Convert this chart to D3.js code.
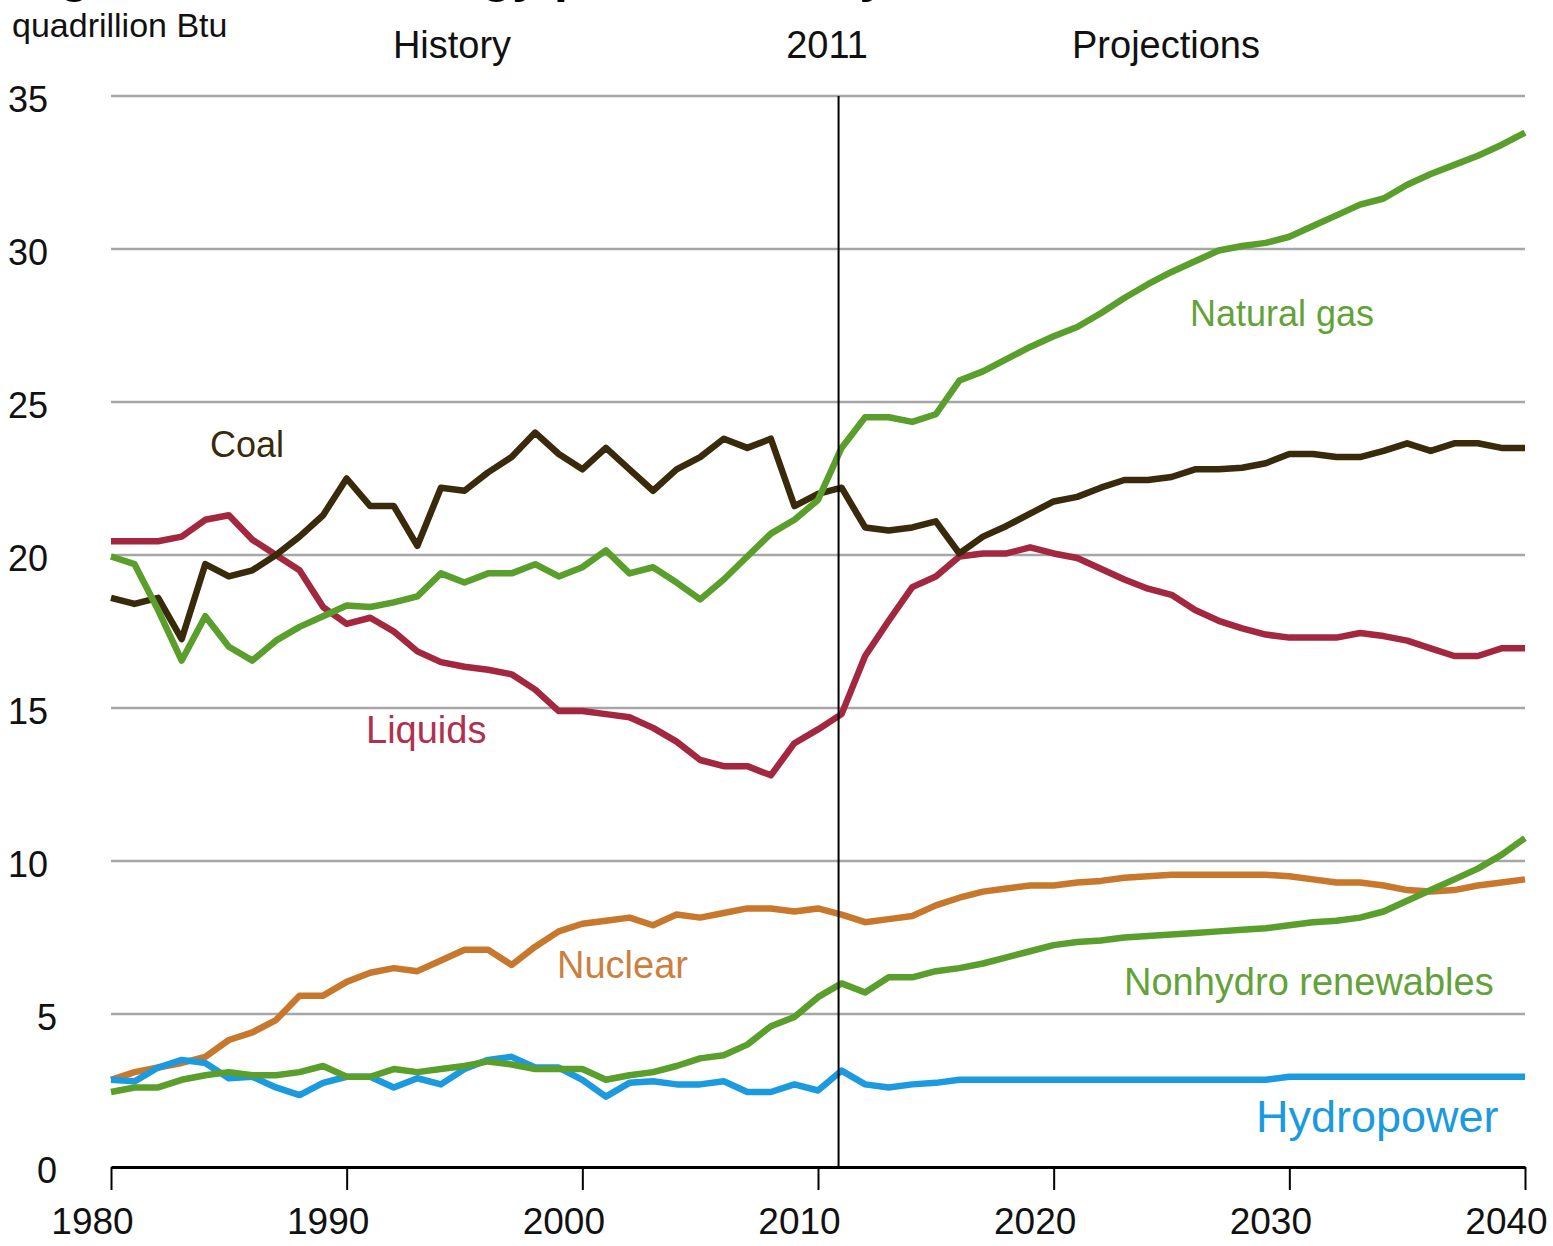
<!DOCTYPE html>
<html>
<head>
<meta charset="utf-8">
<script src="https://cdn.jsdelivr.net/npm/d3@7"></script>
<style>
  body { margin: 0; background: #fff; }
  svg { display: block; font-family: "Liberation Sans", Arial, sans-serif; }
</style>
</head>
<body>
<div id="chart"></div>
<script>
// Years on the x axis
const years = d3.range(1980, 2041);

// Series values, quadrillion Btu, 1980-2040
const coal = [18.6, 18.4, 18.6, 17.25, 19.7, 19.3, 19.5, 20.0, 20.6, 21.3,
  22.5, 21.6, 21.6, 20.3, 22.2, 22.1, 22.7, 23.2, 24.0, 23.3,
  22.8, 23.5, 22.8, 22.1, 22.8, 23.2, 23.8, 23.5, 23.8, 21.6,
  22.0, 22.2, 20.9, 20.8, 20.9, 21.1, 20.05, 20.6, 20.95, 21.35,
  21.75, 21.9, 22.2, 22.45, 22.45, 22.55, 22.8, 22.8, 22.85, 23.0,
  23.3, 23.3, 23.2, 23.2, 23.4, 23.65, 23.4, 23.65, 23.65, 23.5, 23.5];

const liquids = [20.45, 20.45, 20.45, 20.6, 21.15, 21.3, 20.5, 20.0, 19.5, 18.3,
  17.75, 17.95, 17.5, 16.85, 16.5, 16.35, 16.25, 16.1, 15.6, 14.9,
  14.9, 14.8, 14.7, 14.35, 13.9, 13.3, 13.1, 13.1, 12.8, 13.85,
  14.3, 14.8, 16.7, 17.85, 18.95, 19.3, 19.95, 20.05, 20.05, 20.25,
  20.05, 19.9, 19.55, 19.2, 18.9, 18.7, 18.2, 17.85, 17.6, 17.4,
  17.3, 17.3, 17.3, 17.45, 17.35, 17.2, 16.95, 16.7, 16.7, 16.95, 16.95];

const naturalGas = [19.95, 19.7, 18.2, 16.55, 18.0, 17.0, 16.55, 17.2, 17.65, 18.0,
  18.35, 18.3, 18.45, 18.65, 19.4, 19.1, 19.4, 19.4, 19.7, 19.3,
  19.6, 20.15, 19.4, 19.6, 19.1, 18.55, 19.2, 19.95, 20.7, 21.15,
  21.8, 23.5, 24.5, 24.5, 24.35, 24.6, 25.7, 26.0, 26.4, 26.8,
  27.15, 27.45, 27.9, 28.4, 28.85, 29.25, 29.6, 29.95, 30.1, 30.2,
  30.4, 30.75, 31.1, 31.45, 31.65, 32.1, 32.45, 32.75, 33.05, 33.4, 33.8];

const nuclear = [2.85, 3.1, 3.25, 3.4, 3.6, 4.15, 4.4, 4.8, 5.6, 5.6,
  6.05, 6.35, 6.5, 6.4, 6.75, 7.1, 7.1, 6.6, 7.2, 7.7,
  7.95, 8.05, 8.15, 7.9, 8.25, 8.15, 8.3, 8.45, 8.45, 8.35,
  8.45, 8.25, 8.0, 8.1, 8.2, 8.55, 8.8, 9.0, 9.1, 9.2,
  9.2, 9.3, 9.35, 9.45, 9.5, 9.55, 9.55, 9.55, 9.55, 9.55,
  9.5, 9.4, 9.3, 9.3, 9.2, 9.05, 9.0, 9.05, 9.2, 9.3, 9.4];

const nonhydro = [2.45, 2.6, 2.6, 2.85, 3.0, 3.1, 3.0, 3.0, 3.1, 3.3,
  2.95, 2.95, 3.2, 3.1, 3.2, 3.3, 3.45, 3.35, 3.2, 3.2,
  3.2, 2.85, 3.0, 3.1, 3.3, 3.55, 3.65, 4.0, 4.6, 4.9,
  5.55, 6.0, 5.7, 6.2, 6.2, 6.4, 6.5, 6.65, 6.85, 7.05,
  7.25, 7.35, 7.4, 7.5, 7.55, 7.6, 7.65, 7.7, 7.75, 7.8,
  7.9, 8.0, 8.05, 8.15, 8.35, 8.7, 9.05, 9.4, 9.75, 10.2, 10.75];

const hydro = [2.85, 2.8, 3.25, 3.5, 3.4, 2.9, 2.95, 2.6, 2.35, 2.75,
  2.95, 2.95, 2.6, 2.9, 2.7, 3.2, 3.5, 3.6, 3.25, 3.25,
  2.85, 2.3, 2.75, 2.8, 2.7, 2.7, 2.8, 2.45, 2.45, 2.7,
  2.5, 3.15, 2.7, 2.6, 2.7, 2.75, 2.85, 2.85, 2.85, 2.85,
  2.85, 2.85, 2.85, 2.85, 2.85, 2.85, 2.85, 2.85, 2.85, 2.85,
  2.95, 2.95, 2.95, 2.95, 2.95, 2.95, 2.95, 2.95, 2.95, 2.95, 2.95];

// Axis ticks
const xTicks = [1980, 1990, 2000, 2010, 2020, 2030, 2040];
const yTicks = [0, 5, 10, 15, 20, 25, 30, 35];
const lastHistoryYear = 2011;

// Series in drawing order (bottom to top)
const series = [
  { name: 'Nuclear', values: nuclear, color: '#c8782c' },
  { name: 'Hydropower', values: hydro, color: '#1b9ae0' },
  { name: 'Nonhydro renewables', values: nonhydro, color: '#5a9e2c' },
  { name: 'Liquids', values: liquids, color: '#a3283f' },
  { name: 'Coal', values: coal, color: '#3a2a0c' },
  { name: 'Natural gas', values: naturalGas, color: '#5a9e2c' }
];

const width = 1553;
const height = 1246;
const margin = { top: 96, right: 28, bottom: 79, left: 111 };

const svg = d3.select('#chart')
  .append('svg')
  .attr('width', width)
  .attr('height', height);

const x = d3.scaleLinear()
  .domain([1980, 2040])
  .range([margin.left, width - margin.right]);

const y = d3.scaleLinear()
  .domain([0, 35])
  .range([height - margin.bottom, margin.top]);

// Title, almost entirely cropped off the top edge as in the source image
svg.append('text')
  .attr('x', 15)
  .attr('y', -8)
  .attr('font-size', 50)
  .attr('font-weight', 'bold')
  .attr('fill', '#000')
  .text('Figure 60. U.S. energy production by fuel, 1980-2040');

// Gridlines
svg.append('g')
  .selectAll('line')
  .data(yTicks.filter(d => d > 0))
  .enter()
  .append('line')
  .attr('x1', x(1980))
  .attr('x2', x(2040))
  .attr('y1', d => y(d))
  .attr('y2', d => y(d))
  .attr('stroke', '#a6a6a6')
  .attr('stroke-width', 2.5);

// Y tick labels
svg.append('g')
  .selectAll('text')
  .data(yTicks)
  .enter()
  .append('text')
  .attr('x', d => d < 10 ? 57 : 48)
  .attr('y', d => y(d) + 16)
  .attr('text-anchor', 'end')
  .attr('font-size', 36)
  .attr('fill', '#111')
  .text(d => d);

// Unit label and section headers
svg.append('text')
  .attr('x', 12)
  .attr('y', 37)
  .attr('font-size', 34)
  .attr('fill', '#111')
  .text('quadrillion Btu');

const headers = [
  { text: 'History', x: 452 },
  { text: '2011', x: 827 },
  { text: 'Projections', x: 1166 }
];
svg.append('g')
  .selectAll('text')
  .data(headers)
  .enter()
  .append('text')
  .attr('x', d => d.x)
  .attr('y', 58)
  .attr('text-anchor', 'middle')
  .attr('font-size', 38)
  .attr('fill', '#111')
  .text(d => d.text);

// Lines
const line = d3.line()
  .x((d, i) => x(years[i]))
  .y(d => y(d));

svg.append('g')
  .selectAll('path')
  .data(series)
  .enter()
  .append('path')
  .attr('d', d => line(d.values))
  .attr('fill', 'none')
  .attr('stroke', d => d.color)
  .attr('stroke-width', 6.5)
  .attr('stroke-linejoin', 'round');

// History / projections divider
svg.append('line')
  .attr('x1', x(lastHistoryYear) - 3)
  .attr('x2', x(lastHistoryYear) - 3)
  .attr('y1', y(35))
  .attr('y2', y(0))
  .attr('stroke', '#000')
  .attr('stroke-width', 2);

// X axis
const xAxis = d3.axisBottom(x)
  .tickValues(xTicks)
  .tickFormat(d3.format('d'))
  .tickSize(23)
  .tickSizeOuter(0)
  .tickPadding(18);

const gx = svg.append('g')
  .attr('transform', `translate(0,${y(0)})`)
  .call(xAxis);

gx.select('.domain')
  .attr('stroke', '#000')
  .attr('stroke-width', 3);
gx.selectAll('.tick line')
  .attr('stroke', '#000')
  .attr('stroke-width', 2);
gx.selectAll('.tick text')
  .attr('dx', -19)
  .attr('font-size', 37)
  .attr('font-family', '"Liberation Sans", Arial, sans-serif')
  .attr('fill', '#111');

// Series labels
const labels = [
  { text: 'Coal', x: 210, y: 457, color: '#3a2a0c', size: 36 },
  { text: 'Liquids', x: 366, y: 743, color: '#b0304f', size: 38 },
  { text: 'Natural gas', x: 1190, y: 326, color: '#62a238', size: 36 },
  { text: 'Nuclear', x: 557, y: 978, color: '#cc8040', size: 38 },
  { text: 'Nonhydro renewables', x: 1124, y: 995, color: '#62a238', size: 38 },
  { text: 'Hydropower', x: 1256, y: 1132, color: '#1b9ae0', size: 45 }
];

svg.append('g')
  .selectAll('text')
  .data(labels)
  .enter()
  .append('text')
  .attr('x', d => d.x)
  .attr('y', d => d.y)
  .attr('font-size', d => d.size)
  .attr('fill', d => d.color)
  .text(d => d.text);
</script>
</body>
</html>
